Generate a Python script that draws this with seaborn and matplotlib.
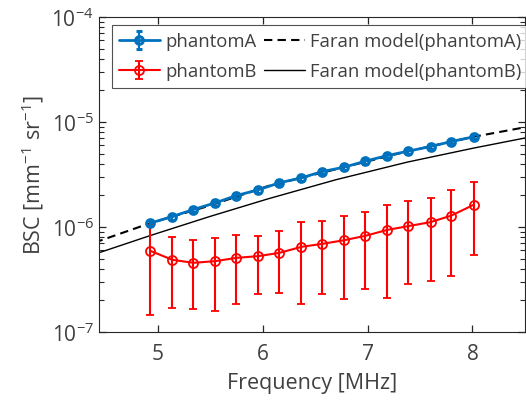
import matplotlib
matplotlib.use('Agg')
import matplotlib.pyplot as plt
import numpy as np
import pandas as pd
import seaborn as sns
from matplotlib.ticker import LogLocator, NullFormatter

# measured frequencies [MHz]
freq = [4.93, 5.14, 5.34, 5.55, 5.75, 5.96, 6.16, 6.37,
        6.57, 6.78, 6.98, 7.19, 7.39, 7.60, 7.80, 8.01]

# phantomA BSC and error
bsc_a = [1.087e-6, 1.257e-6, 1.465e-6, 1.697e-6, 1.992e-6, 2.258e-6, 2.633e-6, 2.938e-6,
         3.373e-6, 3.716e-6, 4.238e-6, 4.793e-6, 5.280e-6, 5.840e-6, 6.518e-6, 7.226e-6]
err_a = [0.07e-6, 0.08e-6, 0.09e-6, 0.10e-6, 0.12e-6, 0.13e-6, 0.15e-6, 0.17e-6,
         0.19e-6, 0.21e-6, 0.24e-6, 0.27e-6, 0.30e-6, 0.33e-6, 0.37e-6, 0.41e-6]

# phantomB BSC with upper / lower ends of the error bars
bsc_b = [5.92e-7, 4.86e-7, 4.55e-7, 4.72e-7, 5.07e-7, 5.27e-7, 5.66e-7, 6.46e-7,
         6.90e-7, 7.48e-7, 8.23e-7, 9.38e-7, 1.018e-6, 1.111e-6, 1.285e-6, 1.624e-6]
upper_b = [1.04e-6, 8.10e-7, 7.53e-7, 7.93e-7, 8.35e-7, 8.28e-7, 9.18e-7, 1.111e-6,
           1.143e-6, 1.268e-6, 1.402e-6, 1.635e-6, 1.77e-6, 1.894e-6, 2.27e-6, 2.71e-6]
lower_b = [1.443e-7, 1.704e-7, 1.645e-7, 1.585e-7, 1.837e-7, 2.288e-7, 2.338e-7, 1.849e-7,
           2.288e-7, 2.05e-7, 2.55e-7, 2.11e-7, 2.87e-7, 3.04e-7, 3.42e-7, 5.42e-7]

# Faran model curves
model_freq = [4.40, 4.93, 5.50, 6.05, 6.70, 7.38, 8.01, 8.55]
faran_a = [7.1e-7, 1.087e-6, 1.60e-6, 2.45e-6, 3.55e-6, 5.25e-6, 7.226e-6, 9.1e-6]
faran_b = [5.5e-7, 8.28e-7, 1.26e-6, 1.85e-6, 2.82e-6, 4.15e-6, 5.64e-6, 7.2e-6]

sns.set_style('ticks')
plt.rcParams['font.family'] = ['Open Sans', 'DejaVu Sans']
plt.rcParams['mathtext.default'] = 'regular'
text_col = '#404040'
axis_col = '#262626'

fig = plt.figure(figsize=(5.26, 4.02), dpi=100)
ax = fig.add_axes([0.188, 0.172, 0.81, 0.783])

blue = '#0072BD'
red = '#FF0000'

models = pd.DataFrame({'f': model_freq, 'a': faran_a, 'b': faran_b})
sns.lineplot(data=models, x='f', y='a', ax=ax, color='black', linestyle=(0, (4, 2.5)),
             linewidth=1.5, label='Faran model(phantomA)', legend=False)
sns.lineplot(data=models, x='f', y='b', ax=ax, color='black', linewidth=1.0,
             label='Faran model(phantomB)', legend=False)

yerr_b = [np.array(bsc_b) - np.array(lower_b), np.array(upper_b) - np.array(bsc_b)]
hb = ax.errorbar(freq, bsc_b, yerr=yerr_b, color=red, marker='o', markersize=6.5,
                 markerfacecolor='none', markeredgewidth=1.3, linewidth=1.5,
                 capsize=3, capthick=1.5, elinewidth=1.5, label='phantomB')
ha = ax.errorbar(freq, bsc_a, yerr=err_a, color=blue, marker='o', markersize=5.5,
                 markerfacecolor='none', markeredgewidth=2.2, linewidth=2.0,
                 capsize=2.5, capthick=1.5, elinewidth=1.5, label='phantomA')

ax.set_yscale('log')
ax.set_xlim(4.44, 8.5)
ax.set_ylim(1e-7, 1e-4)
ax.set_xticks([5, 6, 7, 8])
ax.yaxis.set_major_locator(LogLocator(base=10, numticks=10))
ax.yaxis.set_minor_locator(LogLocator(base=10, subs=np.arange(2, 10), numticks=20))
ax.yaxis.set_minor_formatter(NullFormatter())
ax.set_xlabel('Frequency [MHz]', fontsize=15.5, color=text_col, labelpad=6)
ax.set_ylabel('BSC [mm$^{-1}$ sr$^{-1}$]', fontsize=15.5, color=text_col, labelpad=4)
ax.tick_params(which='both', direction='in', top=True, right=True, color=axis_col,
               labelcolor=text_col, labelsize=15)
ax.tick_params(which='major', length=5, width=0.9)
ax.tick_params(axis='y', which='minor', length=3.5, width=0.8, left=True, right=True)
ax.tick_params(axis='x', pad=8)
for s in ax.spines.values():
    s.set_color(axis_col)
    s.set_linewidth(0.8)

lines = ax.get_lines()
handles = [ha, hb, lines[0], lines[1]]
labels = ['phantomA', 'phantomB', 'Faran model(phantomA)', 'Faran model(phantomB)']
leg = ax.legend(handles, labels, ncol=2, loc='upper left', bbox_to_anchor=(0.03, 0.975),
                fontsize=13.3, frameon=True, fancybox=False, edgecolor=axis_col,
                handlelength=2.2, handletextpad=0.3, columnspacing=0.4,
                labelspacing=0.65, borderpad=0.4, borderaxespad=0.0)
leg.get_frame().set_linewidth(0.8)
for t in leg.get_texts():
    t.set_color(text_col)

fig.savefig('out.png', dpi=100)
